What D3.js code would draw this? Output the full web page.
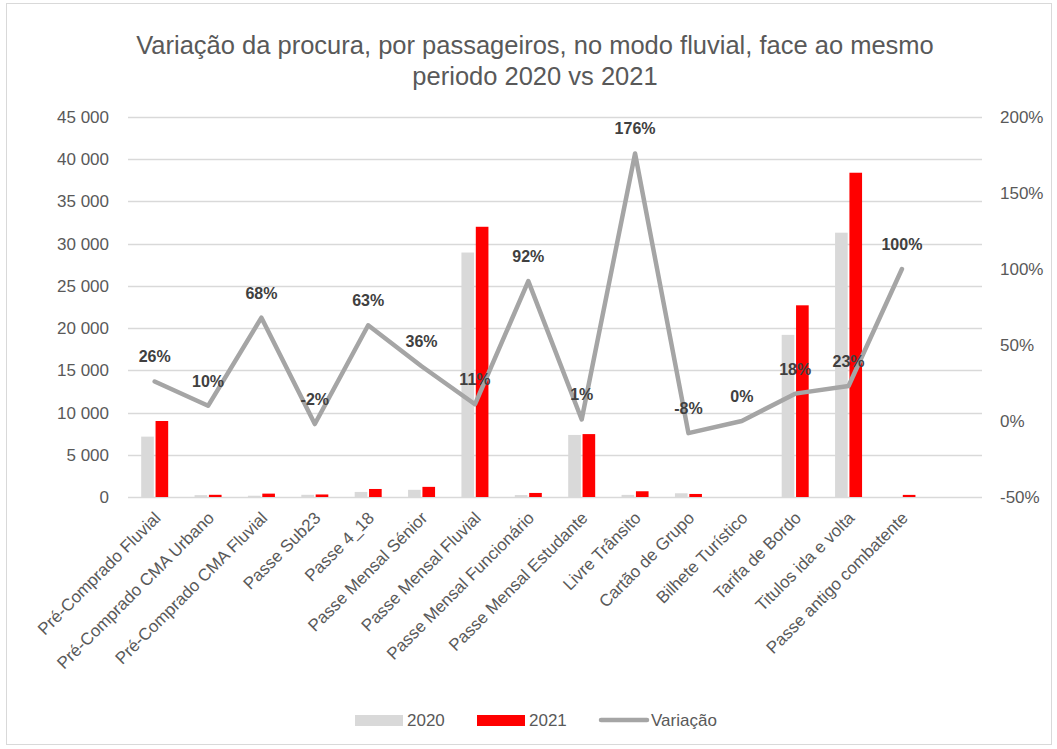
<!DOCTYPE html>
<html>
<head>
<meta charset="utf-8">
<script src="https://cdn.jsdelivr.net/npm/d3@7"></script>
<style>
  body { margin: 0; background: #fff; }
  text { font-family: "Liberation Sans", Arial, sans-serif; }
</style>
</head>
<body>
<div id="chart"></div>
<script>
// chart data
const categories = [
  'Pré-Comprado Fluvial', 'Pré-Comprado CMA Urbano', 'Pré-Comprado CMA Fluvial',
  'Passe Sub23', 'Passe 4_18', 'Passe Mensal Sénior', 'Passe Mensal Fluvial',
  'Passe Mensal Funcionário', 'Passe Mensal Estudante', 'Livre Trânsito',
  'Cartão de Grupo', 'Bilhete Turístico', 'Tarifa de Bordo', 'Titulos ida e volta',
  'Passe antigo combatente'
];
const values2020 = [7150, 220, 150, 260, 600, 850, 28950, 230, 7350, 250, 440, 0, 19200, 31300, 0];
const values2021 = [9000, 260, 400, 300, 950, 1200, 32000, 480, 7450, 680, 360, 0, 22700, 38400, 250];
const variacao = [0.26, 0.10, 0.68, -0.02, 0.63, 0.36, 0.11, 0.92, 0.01, 1.76, -0.08, 0.00, 0.18, 0.23, 1.00];
const leftTicks = [0, 5000, 10000, 15000, 20000, 25000, 30000, 35000, 40000, 45000];
const rightTicks = [-0.5, 0, 0.5, 1, 1.5, 2];
const seriesNames = ['2020', '2021', 'Variação'];

const width = 1057, height = 749;
const plot = { left: 128, right: 982, top: 117, bottom: 497 };
const grey = '#D9D9D9', red = '#FF0000', lineCol = '#A5A5A5', textCol = '#595959';

const svg = d3.select('#chart').append('svg')
  .attr('width', width)
  .attr('height', height);

svg.append('rect')
  .attr('x', 6.5).attr('y', 3.5)
  .attr('width', 1045).attr('height', 741)
  .attr('fill', '#fff')
  .attr('stroke', grey);

// title
svg.append('text')
  .attr('x', 535).attr('y', 0)
  .attr('text-anchor', 'middle')
  .style('font-family', '"Liberation Sans", sans-serif')
  .style('font-size', '25.5px')
  .attr('fill', textCol)
  .selectAll('tspan')
  .data(['Variação da procura, por passageiros, no modo fluvial, face ao mesmo', 'periodo 2020 vs 2021'])
  .join('tspan')
  .attr('x', 535)
  .attr('y', (d, i) => 54 + i * 31)
  .text(d => d);

// scales (an empty last slot, like the source chart)
const x = d3.scaleBand()
  .domain(categories.concat(['']))
  .range([plot.left, plot.right]);
const xInner = d3.scaleBand()
  .domain(['2020', '2021'])
  .range([-13.5, 13.5])
  .paddingInner(0.12);
const yLeft = d3.scaleLinear().domain([0, 45000]).range([plot.bottom, plot.top]);
const yRight = d3.scaleLinear().domain([-0.5, 2]).range([plot.bottom, plot.top]);

// gridlines
svg.append('g')
  .selectAll('line')
  .data(leftTicks)
  .join('line')
  .attr('x1', plot.left).attr('x2', plot.right)
  .attr('y1', d => Math.round(yLeft(d)) + 0.5)
  .attr('y2', d => Math.round(yLeft(d)) + 0.5)
  .attr('stroke', grey)
  .attr('stroke-width', 1.3);

// left axis
const fmtNum = d => d3.format(',')(d).replace(/,/g, ' ');
const fmtPct = d => d3.format('.0%')(d).replace('\u2212', '-');
const leftAxis = svg.append('g')
  .attr('transform', `translate(${plot.left - 19},0)`)
  .call(d3.axisLeft(yLeft).tickValues(leftTicks).tickFormat(fmtNum).tickSize(0).tickPadding(0));
leftAxis.select('.domain').remove();
leftAxis.selectAll('text')
  .style('font-family', '"Liberation Sans", sans-serif')
  .style('font-size', '17px')
  .attr('fill', textCol);

// right axis
const rightAxis = svg.append('g')
  .attr('transform', `translate(${plot.right + 18},0)`)
  .call(d3.axisRight(yRight).tickValues(rightTicks).tickFormat(fmtPct).tickSize(0).tickPadding(0));
rightAxis.select('.domain').remove();
rightAxis.selectAll('text')
  .style('font-family', '"Liberation Sans", sans-serif')
  .style('font-size', '17px')
  .attr('fill', textCol);

// bars
const barData = categories.map((c, i) => ({ cat: c, v: [values2020[i], values2021[i]] }));
const groups = svg.append('g')
  .selectAll('g')
  .data(barData)
  .join('g')
  .attr('transform', d => `translate(${x(d.cat) + x.bandwidth() / 2},0)`);
groups.selectAll('rect')
  .data(d => [{ s: '2020', v: d.v[0] }, { s: '2021', v: d.v[1] }])
  .join('rect')
  .attr('x', d => xInner(d.s))
  .attr('width', xInner.bandwidth())
  .attr('y', d => yLeft(d.v))
  .attr('height', d => plot.bottom - yLeft(d.v))
  .attr('fill', d => d.s === '2020' ? grey : red);

// x category labels
const xAxis = svg.append('g')
  .attr('transform', `translate(0,${plot.bottom})`)
  .call(d3.axisBottom(x).tickValues(categories).tickSize(0).tickPadding(0));
xAxis.select('.domain').remove();
xAxis.selectAll('text')
  .attr('text-anchor', 'end')
  .attr('dy', 0)
  .attr('transform', 'translate(7,22) rotate(-45)')
  .style('font-family', '"Liberation Sans", sans-serif')
  .style('font-size', '17px')
  .attr('fill', textCol);

// variation line
const cx = c => x(c) + x.bandwidth() / 2;
const line = d3.line()
  .x((d, i) => cx(categories[i]))
  .y(d => yRight(d));
svg.append('path')
  .datum(variacao)
  .attr('d', line)
  .attr('fill', 'none')
  .attr('stroke', lineCol)
  .attr('stroke-width', 4.5)
  .attr('stroke-linejoin', 'round')
  .attr('stroke-linecap', 'round');

svg.append('g')
  .selectAll('text')
  .data(variacao)
  .join('text')
  .attr('x', (d, i) => cx(categories[i]))
  .attr('y', d => yRight(d) - 19)
  .attr('text-anchor', 'middle')
  .style('font-family', '"Liberation Sans", sans-serif')
  .style('font-size', '16px')
  .style('font-weight', 'bold')
  .attr('fill', '#404040')
  .text(fmtPct);

// legend
const legend = svg.append('g').attr('transform', 'translate(355,720)');
const legItems = [
  { name: seriesNames[0], x: 0, kind: 'rect', color: grey },
  { name: seriesNames[1], x: 122, kind: 'rect', color: red },
  { name: seriesNames[2], x: 244, kind: 'line', color: lineCol }
];
const li = legend.selectAll('g').data(legItems).join('g')
  .attr('transform', d => `translate(${d.x},0)`);
li.filter(d => d.kind === 'rect').append('rect')
  .attr('x', 0).attr('y', -5).attr('width', 48).attr('height', 11)
  .attr('fill', d => d.color);
li.filter(d => d.kind === 'line').append('line')
  .attr('x1', 2).attr('x2', 48).attr('y1', 0).attr('y2', 0)
  .attr('stroke', d => d.color).attr('stroke-width', 4.5)
  .attr('stroke-linecap', 'round');
li.append('text')
  .attr('x', 52).attr('y', 6)
  .style('font-family', '"Liberation Sans", sans-serif')
  .style('font-size', '17px')
  .attr('fill', textCol)
  .text(d => d.name);
</script>
</body>
</html>
